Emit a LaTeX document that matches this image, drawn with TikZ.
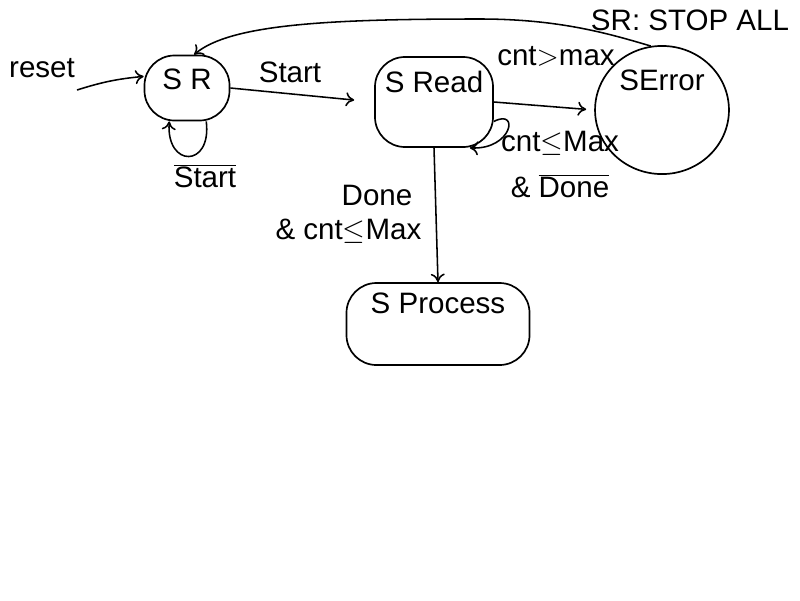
\documentclass[tikz,border=0pt]{standalone}
\usepackage{fontspec}
\setmainfont{Liberation Sans}
\usetikzlibrary{shapes.geometric,arrows.meta}
\begin{document}
\begin{tikzpicture}[x=0.025cm,y=-0.025cm,
  every node/.style={font=\fontsize{21}{24}\selectfont},
  statebox/.style={draw,line width=1.2pt,rounded corners=0.75cm,text height=0.53cm},
  edge/.style={draw,line width=1.1pt,-{To[length=6pt,width=10pt]}},
  lbl/.style={inner sep=1pt}]
\useasboundingbox (0,0) rectangle (800,600);
% states
\node[statebox,minimum width=2.125cm,minimum height=1.625cm,text depth=0.45cm] (SR) at (187,88) {S R};
\node[statebox,minimum width=2.95cm,minimum height=2.25cm,text depth=1.0cm] (SRead) at (434,102) {S Read};
\node[draw,ellipse,line width=1.2pt,minimum width=3.3cm,minimum height=2.65cm,text height=0.53cm,text depth=1.5cm] (SError) at (662,110) {SError};
\node[statebox,minimum width=4.575cm,minimum height=2.05cm,text depth=1.05cm] (SProcess) at (438,324) {S Process};
% reset
\coordinate (rst) at (77,90);
\node[lbl] (resetlbl) at (42,68) {reset};
\draw[edge] (rst) to[bend left=6] (SR.165);
% SR -> SRead
\draw[edge,shorten >=0.5cm] (SR.east) -- (SRead.west);
\node[lbl] (startlbl) at (290,72) {Start};
% SR self loop
\draw[edge] (SR.-60) .. controls (212,168) and (166,168) .. (SR.-118);
\node[lbl] (nstartlbl) at (205,176) {$\overline{\mbox{Start}}$};
% SRead -> SError
\draw[edge,shorten >=0.2cm] (SRead.east) -- (SError.west);
\node[lbl] (gtlbl) at (556,56) {cnt$>$max};
% SRead self loop
\draw[edge] (SRead.-18) .. controls (520,108) and (512,150) .. (SRead.-52);
\node[lbl] (lelbl) at (560,143) {cnt$\leq$Max};
\node[lbl] (ndlbl) at (560,186) {\& $\overline{\mbox{Done}}$};
% SRead -> SProcess
\draw[edge] (SRead.south) -- (SProcess.north);
\node[lbl,anchor=east] (donelbl) at (414,195) {Done};
\node[lbl,anchor=east] (dlelbl) at (423,231) {\& cnt$\leq$Max};
% SError -> SR
\draw[edge] (SError.100) .. controls (610,34) and (560,19) .. (480,19)
  .. controls (330,19) and (230,24) .. (SR.78);
\node[lbl] (stoplbl) at (690,20) {SR: STOP ALL};
\end{tikzpicture}
\end{document}
